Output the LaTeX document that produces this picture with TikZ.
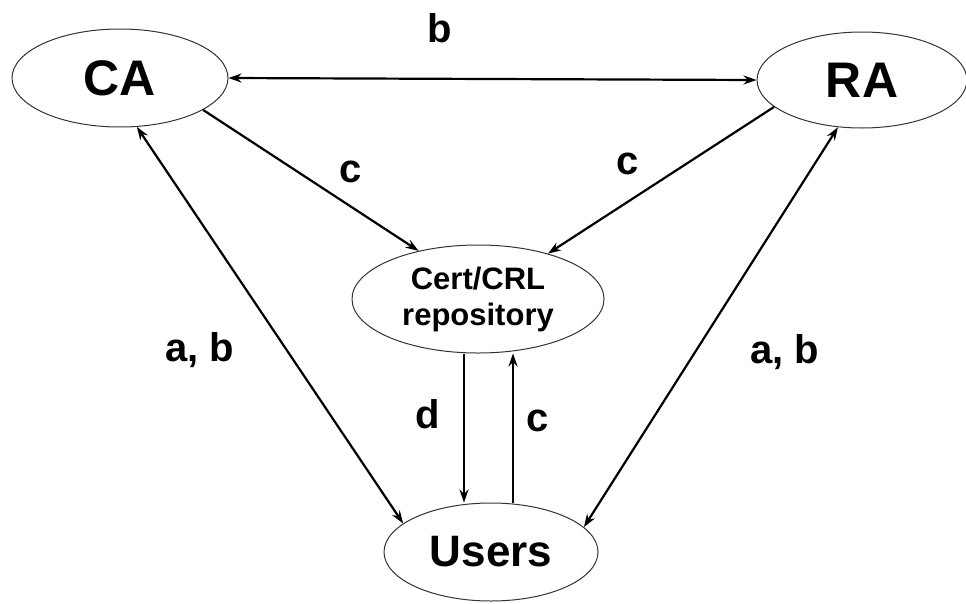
\documentclass[tikz,border=0pt]{standalone}
\usepackage{fontspec}
\setmainfont{Liberation Sans}
\usetikzlibrary{shapes.geometric,arrows.meta}

\begin{document}
\begin{tikzpicture}[x=1pt,y=-1pt,
  entity/.style={ellipse,draw=black!80,line width=1pt,inner sep=0pt,font=\bfseries},
  link/.style={line width=2.2pt,-{Stealth[length=13pt,width=9pt]}},
  both/.style={line width=2.2pt,{Stealth[length=13pt,width=9pt]}-{Stealth[length=13pt,width=9pt]}},
  lbl/.style={font=\fontsize{40}{40}\selectfont\bfseries,inner sep=0pt}
]
\useasboundingbox (0,0) rectangle (966,603);

% parties
\node[entity,minimum width=216pt,minimum height=98pt,font=\fontsize{50}{50}\selectfont\bfseries] (CA) at (120,78) {CA};
\node[entity,minimum width=210pt,minimum height=96pt,font=\fontsize{50}{50}\selectfont\bfseries] (RA) at (862,80) {RA};
\node[entity,minimum width=252pt,minimum height=108pt,align=center,font=\fontsize{31}{36}\selectfont\bfseries] (Rep) at (478,299) {Cert/CRL\\repository};
\node[entity,minimum width=214pt,minimum height=98pt,font=\fontsize{44}{44}\selectfont\bfseries] (Users) at (491,552) {Users};

% flows between the parties
\draw[both] (CA.east) -- (RA.west);
\draw[link] (CA.-21) -- (Rep.141);
\draw[link] (RA.-163) -- (Rep.33);
\draw[both] (CA.-71) -- (Users.162);
\draw[both] (RA.-117) -- (Users.15);

\coordinate (dtop) at ([xshift=-14pt]Rep.south);
\coordinate (ctop) at ([xshift=35pt]Rep.south);
\draw[link] (dtop) -- (dtop |- Users.north);
\draw[link] (ctop |- Users.north) -- (ctop);

% labels
\node[lbl] (lb) at (440,28) {b};
\node[lbl] (lc1) at (351,172) {c};
\node[lbl] (lc2) at (628,164) {c};
\node[lbl] (lab1) at (200,350) {a, b};
\node[lbl] (lab2) at (785,352) {a, b};
\node[lbl] (ld) at (428,414) {d};
\node[lbl] (lc3) at (538,421) {c};
\end{tikzpicture}
\end{document}
